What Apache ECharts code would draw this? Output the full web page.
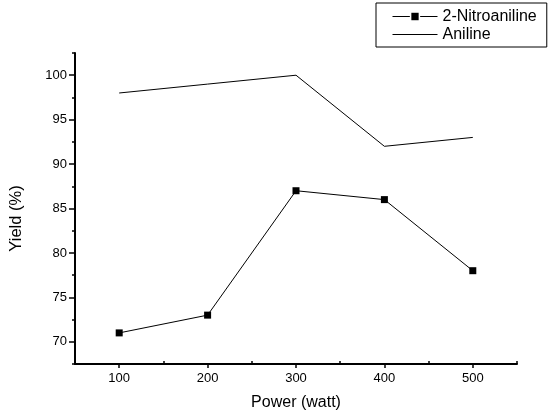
<!DOCTYPE html>
<html>
<head>
<meta charset="utf-8">
<script src="https://cdn.jsdelivr.net/npm/echarts@6/dist/echarts.min.js"></script>
<style>
  html, body { margin: 0; padding: 0; background: #fff; }
  #chart { width: 550px; height: 418px; }
</style>
</head>
<body>
<div id="chart"></div>
<script>
// power levels (watt)
const power = [100, 200, 300, 400, 500]
// yields (%)
const nitroaniline = [71, 73, 87, 86, 78]
const aniline = [98, 99, 100, 92, 93]

const xTicks = [100, 200, 300, 400, 500]
const xMinorTicks = [150, 250, 350, 450, 550]
const yTicks = [70, 75, 80, 85, 90, 95, 100]
const yMinorTicks = [67.5, 72.5, 77.5, 82.5, 87.5, 92.5, 97.5, 102.5]

const font = 'Arial, "Liberation Sans", sans-serif'
const pairs = (ys) => power.map((x, i) => [x, ys[i]])

const chart = echarts.init(document.getElementById('chart'), null, { renderer: 'canvas' })

const baseX = { type: 'value', min: 50, max: 550, splitLine: { show: false } }
const baseY = { type: 'value', min: 67.5, max: 102.5, splitLine: { show: false } }

chart.setOption({
  animation: false,
  backgroundColor: '#fff',
  grid: { left: 71, right: 33, top: 53, bottom: 54 },
  legend: {
    orient: 'vertical',
    left: 376,
    top: 3,
    padding: [5, 10, 4, 16],
    itemGap: 1,
    itemWidth: 45,
    itemHeight: 11,
    borderColor: '#000',
    borderWidth: 1,
    borderRadius: 0,
    lineStyle: { width: 1, color: '#000' },
    textStyle: { fontFamily: font, fontSize: 16, lineHeight: 17, color: '#000' },
    data: [
      { name: '2-Nitroaniline', itemStyle: { color: '#000', borderColor: '#fff', borderWidth: 1.5 } },
      { name: 'Aniline', itemStyle: { opacity: 0 } }
    ]
  },
  xAxis: [
    Object.assign({}, baseX, {
      name: 'Power (watt)',
      nameLocation: 'middle',
      nameGap: 31,
      nameTextStyle: { fontFamily: font, fontSize: 16, color: '#000' },
      axisLine: { lineStyle: { color: '#000', width: 2 } },
      axisTick: { customValues: xTicks, length: 4, lineStyle: { color: '#000', width: 1.5 } },
      axisLabel: { customValues: xTicks, fontFamily: font, fontSize: 13, color: '#000', margin: 8 }
    }),
    Object.assign({}, baseX, {
      position: 'bottom',
      axisLine: { show: false },
      axisTick: { customValues: xMinorTicks, inside: true, length: 3, lineStyle: { color: '#000', width: 1.5 } },
      axisLabel: { show: false }
    })
  ],
  yAxis: [
    Object.assign({}, baseY, {
      name: 'Yield (%)',
      nameLocation: 'middle',
      nameGap: 50,
      nameTextStyle: { fontFamily: font, fontSize: 16.5, color: '#000', padding: [0, 20, 0, 0] },
      axisLine: { lineStyle: { color: '#000', width: 2 } },
      axisTick: { customValues: yTicks, length: 6, lineStyle: { color: '#000', width: 1.5 } },
      axisLabel: { customValues: yTicks, fontFamily: font, fontSize: 13, color: '#000', margin: 8 }
    }),
    Object.assign({}, baseY, {
      position: 'left',
      axisLine: { show: false },
      axisTick: { customValues: yMinorTicks, length: 3, lineStyle: { color: '#000', width: 1.5 } },
      axisLabel: { show: false }
    })
  ],
  series: [
    {
      name: '2-Nitroaniline',
      type: 'line',
      data: pairs(nitroaniline),
      symbol: 'rect',
      symbolSize: 7,
      itemStyle: { color: '#000' },
      lineStyle: { color: '#000', width: 1 }
    },
    {
      name: 'Aniline',
      type: 'line',
      data: pairs(aniline),
      symbol: 'none',
      itemStyle: { color: '#000' },
      lineStyle: { color: '#000', width: 1 }
    }
  ]
})
</script>
</body>
</html>
